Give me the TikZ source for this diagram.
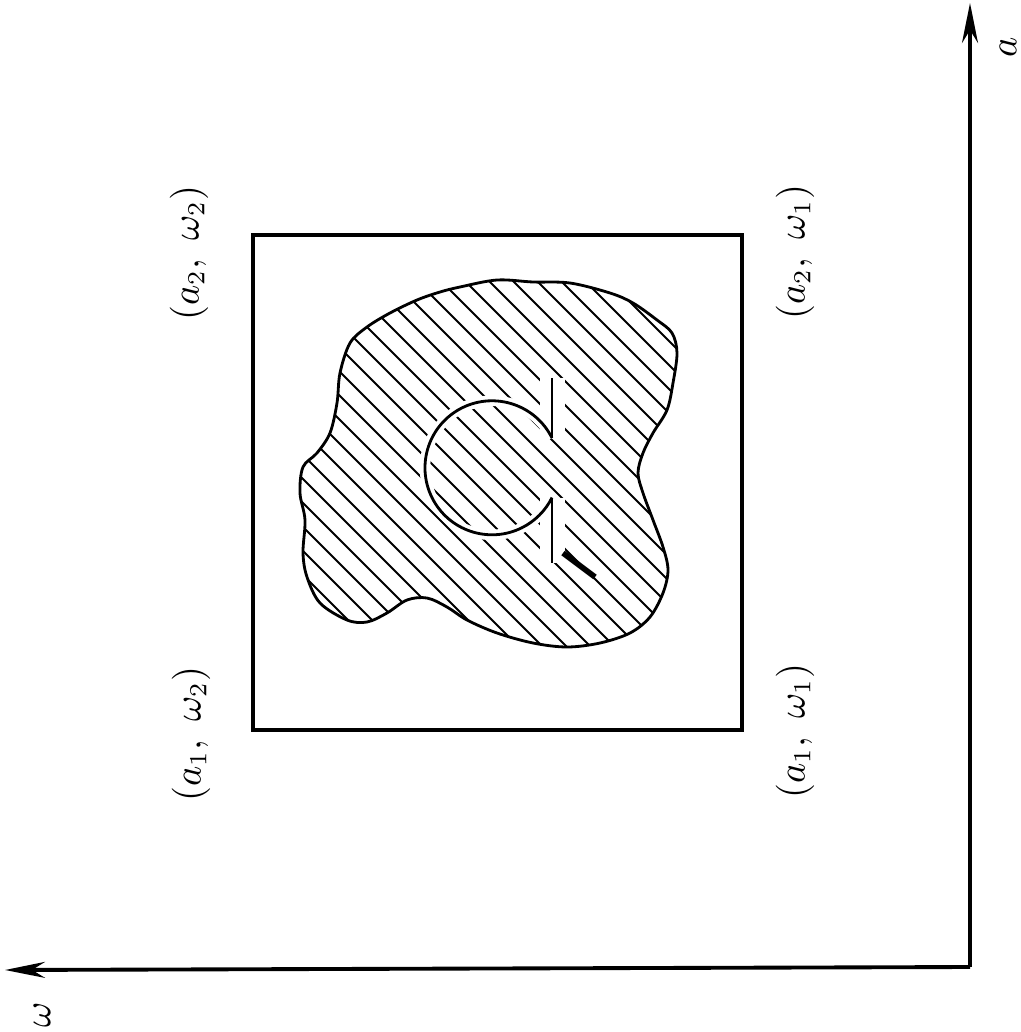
\documentclass[tikz,border=0pt]{standalone}
\usetikzlibrary{arrows.meta}

\newcommand{\blobshape}{plot[smooth cycle, tension=0.55] coordinates {
    (460,287) (497,280) (533,282) (570,283) (610,293) (633,303) (657,320)
    (672,333) (677,353) (673,383) (667,410) (653,433) (643,453) (638,473)
    (643,493) (653,520) (663,547) (668,570) (663,593) (650,617) (630,633)
    (600,643) (567,647) (533,643) (497,633) (467,620) (447,607) (427,598)
    (407,600) (387,613) (367,622) (347,620) (320,603) (307,577) (303,553)
    (305,520) (300,493) (303,467) (317,453) (330,433) (337,403) (340,373)
    (350,343) (367,327) (390,313) (417,300) (440,292)}}

\begin{document}
\begin{tikzpicture}[
    x=0.1mm, y=-0.1mm, >={Stealth[length=4mm, width=1.6mm]},
    axis/.style={line width=1.1pt},
    frame/.style={line width=0.9pt},
    corner/.style={rotate=90, font=\fontsize{10.5}{12}\selectfont},
    hatch/.style={line width=0.6pt},
    edge/.style={line width=0.8pt},
]
\useasboundingbox (0,0) rectangle (1020,1032);

% axes
\coordinate (O) at (970,967);
\coordinate (atip) at (970,3);
\coordinate (wtip) at (5,970);
\draw[axis, ->] (O) -- (atip);
\draw[axis, ->] (O) -- (wtip);
\node[corner] (alab) at (1008,47) {$a$};
\node[corner] (wlab) at (42,1015) {$\omega$};

% parameter box and its corners
\coordinate (b22) at (253,235);
\coordinate (b11) at (742,730);
\draw[frame] (b22) rectangle (b11);
\node[corner] (c22) at (189,253) {$(a_2,\ \omega_2)$};
\node[corner] (c21) at (795,252) {$(a_2,\ \omega_1)$};
\node[corner] (c12) at (191,734) {$(a_1,\ \omega_2)$};
\node[corner] (c11) at (795,731) {$(a_1,\ \omega_1)$};

% hatched region
\begin{scope}
    \clip \blobshape;
    \foreach \c in {-400,-376,...,360}
        \draw[hatch] (250,250+\c) -- (700,700+\c);
    \draw[white, line width=2.5mm] (552,378) -- (552,438);
    \draw[white, line width=2.5mm] (552,498) -- (552,563);
    \draw[line width=1.6pt] (563,553) -- (595,577);
\end{scope}
\draw[edge] \blobshape;

% open circle with stems
\coordinate (s1) at (552,378);
\coordinate (s2) at (552,438);
\coordinate (s3) at (552,498);
\coordinate (s4) at (552,563);
\draw[edge, preaction={draw=white, line width=3pt}]
    (s2) arc[start angle=-26.4, end angle=-333.6, radius=67];
\draw[edge] (s1) -- (s2);
\draw[edge] (s3) -- (s4);
\end{tikzpicture}
\end{document}
